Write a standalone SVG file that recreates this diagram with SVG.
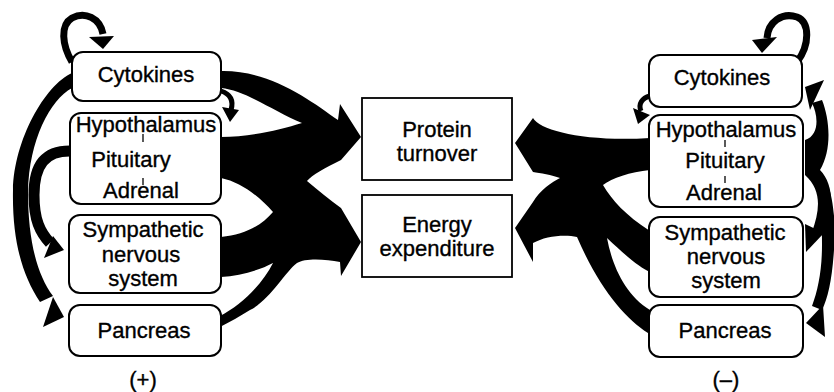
<svg xmlns="http://www.w3.org/2000/svg" width="834" height="392" viewBox="0 0 834 392">
<style>
.box{fill:#fff;stroke:#000;stroke-width:2}
.mid{fill:#fff;stroke:#000;stroke-width:1.8}
text{font-family:"Liberation Sans",Arial,sans-serif;font-size:22px;fill:#000;stroke:#000;stroke-width:0.35;text-anchor:middle}
.blk{fill:#000;stroke:none}
.ln{fill:none;stroke:#000;stroke-width:7}
.tick{stroke:#000;stroke-width:1.3}
</style>
<rect width="834" height="392" fill="#fff"/>
<g id="connectors">
  <path class="ln" d="M72,62 C62,45 60,25 72,18 C85,11 100,18 103,34"/>
  <polygon class="blk" points="89,37 114,36 103,49"/>
  <path class="ln" style="stroke-width:5" d="M221,91 C230,94 234,100 231,110"/>
  <polygon class="blk" points="222,107 239,110 230,122"/>
  <path class="blk" d="M72,73 C45,85 14,140 13,190 C12,240 22,275 40,302 L53,296 C37,275 28,240 28,192 C29,140 50,100 72,88 Z"/>
  <polygon class="blk" points="53,297 64,317 43,327"/>
  <path class="ln" style="stroke-width:11" d="M72,151 C45,150 34,165 34,195 C34,220 40,232 50,243"/>
  <polygon class="blk" points="53,236 64,250 44,258"/>
  <path class="blk" d="M221,71 C270,70 310,100 338,120 L340,104 L361,137 L341,160 C325,168 312,175 307,181 C318,190 330,200 341,208 L361,242 L341,276 L340,262 C325,259 305,258 297,263 C285,272 270,300 250,310 C240,316 230,322 220,327 L220,316 C240,306 262,285 273,263 C260,270 240,276 221,277 L221,237 C245,235 262,225 273,212 C258,195 240,182 221,178 L221,137 C250,137 280,130 302,123 C275,112 245,90 221,88 Z"/>
  <path class="ln" d="M797,62 C810,45 810,22 797,17 C782,12 768,22 767,38"/>
  <polygon class="blk" points="752,40 777,37 762,53"/>
  <path class="ln" style="stroke-width:5" d="M650,96 C642,98 638,104 641,111"/>
  <polygon class="blk" points="633,108 650,115 638,124"/>
  <path class="blk" d="M515,143 L533,118 C540,131 587,142 650,138 L650,170 C630,172 612,178 603,185 C612,200 625,215 650,231 L650,272 C640,268 625,255 607,238 C612,265 625,295 650,310 L648,333 C625,318 600,290 577,237 C565,234 545,236 533,243 L533,262 L515,228 L533,202 C540,190 552,182 560,178 C552,175 540,173 533,172 Z"/>
  <path class="blk" d="M805,140 C820,135 818,115 812,103 L822,100 C830,120 832,150 820,170 C835,185 834,215 822,235 L812,232 C820,210 822,190 805,175 Z"/>
  <polygon class="blk" points="805,87 824,80 810,110"/>
  <polygon class="blk" points="805,224 824,233 806,252"/>
  <path class="blk" d="M812,165 C834,175 836,220 834,250 C832,280 828,298 822,310 L812,306 C818,290 822,270 822,245 C822,210 818,185 810,175 Z"/>
  <polygon class="blk" points="823,305 806,323 825,337"/>
</g>
<g id="cytokines-left"><rect class="box" x="72" y="52" width="149" height="49" rx="11"/><text x="146" y="82">Cytokines</text></g>
<g id="hpa-left"><rect class="box" x="70" y="113" width="151" height="91" rx="11"/><text x="146" y="132">Hypothalamus</text><text x="131" y="167">Pituitary</text><text x="141" y="198">Adrenal</text><line class="tick" x1="143" y1="134" x2="143" y2="142"/><line class="tick" x1="143" y1="178" x2="143" y2="185"/></g>
<g id="sns-left"><rect class="box" x="69" y="215" width="152" height="78" rx="11"/><text x="143" y="237">Sympathetic</text><text x="141" y="262">nervous</text><text x="143" y="286">system</text></g>
<g id="pancreas-left"><rect class="box" x="69" y="305" width="152" height="51" rx="11"/><text x="144" y="338">Pancreas</text></g>
<g id="protein"><rect class="mid" x="362" y="98" width="150" height="82"/><text x="437" y="137">Protein</text><text x="437" y="161">turnover</text></g>
<g id="energy"><rect class="mid" x="362" y="195" width="150" height="82"/><text x="437" y="232">Energy</text><text x="437" y="256">expenditure</text></g>
<g id="cytokines-right"><rect class="box" x="649" y="55" width="153" height="52" rx="11"/><text x="722" y="85">Cytokines</text></g>
<g id="hpa-right"><rect class="box" x="649" y="115" width="154" height="92" rx="11"/><text x="726" y="137">Hypothalamus</text><text x="725" y="168">Pituitary</text><text x="724" y="200">Adrenal</text><line class="tick" x1="725" y1="140" x2="725" y2="147"/><line class="tick" x1="725" y1="176" x2="725" y2="183"/></g>
<g id="sns-right"><rect class="box" x="649" y="217" width="154" height="80" rx="11"/><text x="725" y="240">Sympathetic</text><text x="726" y="264">nervous</text><text x="726" y="288">system</text></g>
<g id="pancreas-right"><rect class="box" x="649" y="305" width="154" height="52" rx="11"/><text x="725" y="338">Pancreas</text></g>
<text x="143" y="387">(+)</text>
<text x="726" y="387">(–)</text>
</svg>
